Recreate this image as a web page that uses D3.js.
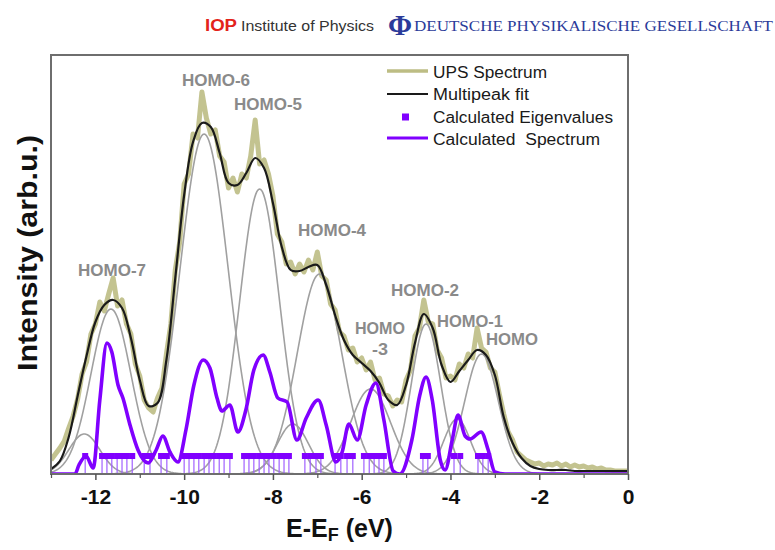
<!DOCTYPE html>
<html><head><meta charset="utf-8">
<script src="https://cdn.jsdelivr.net/npm/d3@7"></script>
<style>body{margin:0;background:#fff;} svg{display:block;}</style>
</head><body><svg id="c" width="775" height="550"></svg>
<script>
// ---------------- DATA ----------------
// UPS spectrum, sampled every 0.1 eV starting at -13.0 eV
const upsStart = -13.0, upsStep = 0.1;
const upsValues = [14,20,26,33,46,58,75,100,112,140,150,172,163,180,196,168,174,150,140,110,
  98,74,66,62,76,86,120,150,204,232,290,300,340,336,382,356,340,344,318,312,
  286,296,282,300,296,318,354,310,314,300,278,240,232,210,212,200,210,202,214,204,
  222,198,194,170,164,142,138,124,126,112,116,104,112,94,96,80,78,68,74,72,
  94,104,138,146,174,152,150,124,116,96,98,94,110,106,120,116,146,126,122,106,
  102,80,60,42,34,22,18,14,12,10,11,8,10,9,11,8,10,7,9,7,
  8,6,7,5,6,4,4,3,3,3,3];
// Multipeak fit (black)
const fitEnergy = [-13.0,-12.8,-12.6,-12.4,-12.2,-12.0,-11.8,-11.6,-11.4,-11.2,-11.0,-10.8,-10.6,-10.4,-10.2,-10.0,
  -9.8,-9.6,-9.4,-9.2,-9.0,-8.8,-8.6,-8.4,-8.2,-8.0,-7.8,-7.6,-7.4,-7.2,-7.0,-6.8,-6.6,-6.4,-6.2,-6.0,
  -5.8,-5.6,-5.4,-5.2,-5.0,-4.8,-4.6,-4.4,-4.2,-4.0,-3.8,-3.6,-3.4,-3.2,-3.0,-2.8,-2.6,-2.4,-2.2,-2.0,
  -1.8,-1.6,-1.4,-1.2,-1.0,-0.8,-0.6,-0.4,-0.2,0.0];
const fitValues = [5,13,37,78,118,152,169,174,166,136,94,68,71,114,196,279,
  332,351,347,321,291,289,301,316,306,271,227,204,203,207,209,189,159,134,119,111,
  103,91,74,69,89,131,160,146,109,92,103,114,124,119,99,57,31,16,8,5,
  4,4,4,3,3,3,3,3,3,3];
// Gaussian components of the fit (grey)
const peakCenters = [-12.25,-11.65,-9.55,-8.3,-7.55,-6.95,-5.8,-4.55,-3.85,-3.3];
const peakHeights = [40,165,340,285,50,200,85,150,55,120];
const peakWidths  = [0.35,0.45,0.54,0.45,0.35,0.5,0.45,0.33,0.3,0.38];
// Calculated spectrum (purple)
const calcEnergy = [-13.0,-12.46,-12.37,-12.21,-12.05,-11.9,-11.74,-11.63,-11.49,-11.38,-11.22,-11.04,-10.81,-10.63,-10.48,
  -10.32,-10.14,-9.96,-9.78,-9.57,-9.42,-9.26,-9.15,-8.97,-8.79,-8.61,-8.43,-8.22,-8.07,-7.89,-7.68,-7.46,-7.25,
  -6.98,-6.8,-6.58,-6.44,-6.29,-6.1,-5.9,-5.68,-5.5,-5.29,-5.14,-4.87,-4.69,-4.55,-4.41,-4.23,-4.12,-3.96,-3.83,
  -3.67,-3.56,-3.31,-3.15,-3.0,-2.77,0.0];
const calcValues = [0,0,9,18,6,74,131,122,89,76,49,24,11,24,38,
  22,12,44,89,114,106,76,63,69,42,64,104,119,102,76,72,34,56,
  74,49,12,22,50,34,69,91,54,3,0,34,79,97,74,14,4,34,59,
  38,35,42,24,2,0,0];
// Calculated eigenvalues (eV)
const eigenvalues = [-12.23,-11.85,-11.74,-11.63,-11.51,-11.40,-11.29,-11.17,-10.90,-10.77,-10.52,-10.39,
  -10.0,-9.89,-9.78,-9.67,-9.55,-9.44,-9.33,-9.21,-9.10,-8.97,
  -8.65,-8.54,-8.43,-8.31,-8.20,-8.09,-7.98,-7.86,-7.75,-7.64,
  -7.28,-7.16,-7.03,-6.92,-6.60,-6.47,-6.33,-6.20,-5.95,-5.83,-5.72,-5.61,-5.50,
  -4.62,-4.51,-3.92,-3.78,-3.38,-3.27,-3.15];
const eigenLevel = 18;
// Axis ticks
const majorTicks = [-12,-10,-8,-6,-4,-2,0];
const minorTicks = [-13,-11,-9,-7,-5,-3,-1];
// Peak labels
const peakLabels = ["HOMO-7","HOMO-6","HOMO-5","HOMO-4","HOMO","-3","HOMO-2","HOMO-1","HOMO"];
const legendLabels = ["UPS Spectrum","Multipeak fit","Calculated Eigenvalues","Calculated  Spectrum"];

// ---------------- DRAW ----------------
const svg = d3.select("#c");
const L = 51, R = 628, T = 55, B = 474;
const x = d3.scaleLinear().domain([-13, 0]).range([L, R]);
const y = d3.scaleLinear().domain([0, 419]).range([B, T]);
const SANS = "'Liberation Sans', Arial, sans-serif";

svg.append("clipPath").attr("id","pc").append("rect")
  .attr("x", L).attr("y", T).attr("width", R-L).attr("height", B-T);
const plot = svg.append("g").attr("clip-path","url(#pc)");

// UPS spectrum
const ups = upsValues.map((v,i)=>[upsStart + i*upsStep, v]);
plot.append("path").datum(ups)
  .attr("d", d3.line().x(d=>x(d[0])).y(d=>y(d[1])))
  .attr("fill","none").attr("stroke","#bdbd84").attr("stroke-width",5)
  .attr("stroke-linejoin","round").attr("opacity",0.9);

// Gaussian components
peakCenters.forEach((c,i)=>{
  const h = peakHeights[i], w = peakWidths[i];
  const pts = d3.range(-4*w, 4*w+1e-9, w/20).map(dx=>[c+dx, h*Math.exp(-dx*dx/(2*w*w))]);
  plot.append("path").datum(pts)
    .attr("d", d3.line().x(d=>x(d[0])).y(d=>y(d[1])))
    .attr("fill","none").attr("stroke","#a0a0a0").attr("stroke-width",1.6);
});

// Multipeak fit
plot.append("path").datum(fitEnergy.map((e,i)=>[e, fitValues[i]]))
  .attr("d", d3.line().curve(d3.curveCatmullRom).x(d=>x(d[0])).y(d=>y(d[1])))
  .attr("fill","none").attr("stroke","#1a1a1a").attr("stroke-width",2.2);

// Eigenvalue sticks and markers
plot.selectAll("line.stick").data(eigenvalues).join("line")
  .attr("x1",d=>x(d)).attr("x2",d=>x(d)).attr("y1",y(eigenLevel)).attr("y2",y(0))
  .attr("stroke","#a060ff").attr("stroke-width",1.2);
plot.selectAll("rect.ev").data(eigenvalues).join("rect")
  .attr("x",d=>x(d)-3).attr("y",y(eigenLevel)-3).attr("width",6).attr("height",6)
  .attr("fill","#8000ff");

// Calculated spectrum
plot.append("path").datum(calcEnergy.map((e,i)=>[e, calcValues[i]]))
  .attr("d", d3.line().curve(d3.curveMonotoneX).x(d=>x(d[0])).y(d=>y(d[1])))
  .attr("fill","none").attr("stroke","#8000ff").attr("stroke-width",3.6)
  .attr("stroke-linejoin","round");

// Frame
svg.append("rect").attr("x",L).attr("y",T).attr("width",R-L).attr("height",B-T)
  .attr("fill","none").attr("stroke","#6e6e6e").attr("stroke-width",2);

// Axes
const ax = svg.append("g").attr("transform",`translate(0,${B})`)
  .call(d3.axisBottom(x).tickValues(majorTicks).tickSize(6).tickPadding(9).tickFormat(d=>String(d)));
ax.select(".domain").remove();
ax.selectAll("line").attr("stroke","#555").attr("stroke-width",1.5);
ax.selectAll("text").attr("font-family",SANS).attr("font-weight","bold").attr("font-size",21).attr("fill","#111");
const axm = svg.append("g").attr("transform",`translate(0,${B})`)
  .call(d3.axisBottom(x).tickValues(minorTicks).tickSize(4).tickFormat(""));
axm.select(".domain").remove();
axm.selectAll("line").attr("stroke","#555").attr("stroke-width",1.2);

// Axis titles
const xt = svg.append("text").attr("x",(L+R)/2).attr("y",537).attr("text-anchor","middle")
  .attr("font-family",SANS).attr("font-weight","bold").attr("font-size",25).attr("fill","#111");
xt.append("tspan").text("E-E");
xt.append("tspan").text("F").attr("font-size",18).attr("dy",4);
xt.append("tspan").text(" (eV)").attr("font-size",25).attr("dy",-4);

svg.append("text").attr("transform","translate(37,253) rotate(-90)").attr("text-anchor","middle")
  .attr("font-family",SANS).attr("font-weight","bold").attr("font-size",27).attr("fill","#111")
  .attr("textLength",236).attr("lengthAdjust","spacingAndGlyphs")
  .text("Intensity (arb.u.)");

// Peak labels
const labelPos = [[112,276,68],[216,86,68],[268,110,68],[332,236,68],[380,334,50],[380,355,16],[425,296,68],[470,327,66],[512,345,52]];
peakLabels.forEach((t,i)=>{
  const p = labelPos[i];
  svg.append("text").attr("x",p[0]).attr("y",p[1]).attr("text-anchor","middle")
    .attr("font-family",SANS).attr("font-weight","bold").attr("font-size",16).attr("fill","#8a8a8a")
    .attr("textLength",p[2]).attr("lengthAdjust","spacingAndGlyphs").text(t);
});

// Legend
const lg = svg.append("g");
const legY = [71,94,117,138];
const legText = [[78,114],[100,96],[123,180],[145,167]];
lg.append("line").attr("x1",387).attr("x2",428).attr("y1",legY[0]).attr("y2",legY[0]).attr("stroke","#bdbd84").attr("stroke-width",3.5);
lg.append("line").attr("x1",387).attr("x2",428).attr("y1",legY[1]).attr("y2",legY[1]).attr("stroke","#1a1a1a").attr("stroke-width",2);
lg.append("rect").attr("x",402).attr("y",legY[2]-3.5).attr("width",7).attr("height",7).attr("fill","#8000ff");
lg.append("line").attr("x1",387).attr("x2",428).attr("y1",legY[3]).attr("y2",legY[3]).attr("stroke","#8000ff").attr("stroke-width",3);
legendLabels.forEach((t,i)=>{
  lg.append("text").attr("x",433).attr("y",legText[i][0]).attr("font-family",SANS).attr("font-size",16)
    .attr("fill","#1a1a1a").attr("textLength",legText[i][1]).attr("lengthAdjust","spacingAndGlyphs")
    .attr("xml:space","preserve").text(t);
});

// Header
const hd = svg.append("g");
hd.append("text").attr("x",205).attr("y",31).attr("font-family",SANS).attr("font-weight","bold")
  .attr("font-size",16).attr("fill","#e3231b").attr("textLength",32).attr("lengthAdjust","spacingAndGlyphs").text("IOP");
hd.append("text").attr("x",241).attr("y",31).attr("font-family","'Liberation Sans Narrow','Liberation Sans',Arial,sans-serif")
  .attr("font-size",15).attr("fill","#333").attr("textLength",133).attr("lengthAdjust","spacingAndGlyphs").text("Institute of Physics");
hd.append("text").attr("x",400).attr("y",35).attr("text-anchor","middle").attr("font-family","'Liberation Serif','DejaVu Serif',serif")
  .attr("font-size",29).attr("font-weight","bold").attr("fill","#2b3b9a").text("Φ");
hd.append("text").attr("x",414).attr("y",31).attr("font-family","'Liberation Serif','DejaVu Serif',serif")
  .attr("font-size",14).attr("fill","#2b3b9a").attr("textLength",359).attr("lengthAdjust","spacingAndGlyphs")
  .text("DEUTSCHE PHYSIKALISCHE GESELLSCHAFT");
</script></body></html>
